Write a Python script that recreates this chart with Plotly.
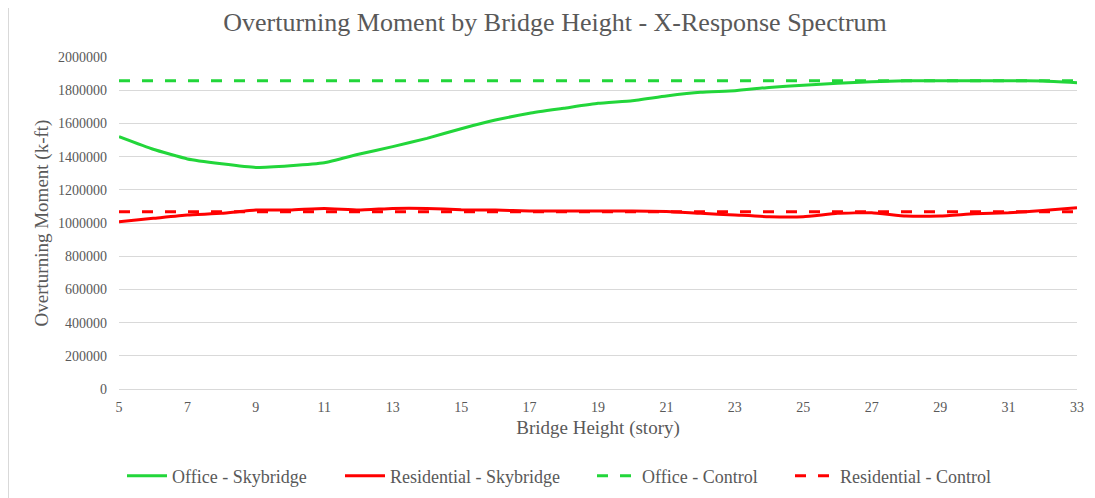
import plotly.graph_objects as go

stories = list(range(5, 34))
office_sky = [1520000, 1444000, 1386000, 1357000, 1335000, 1345000, 1363000, 1414000,
              1460000, 1510000, 1568000, 1620000, 1661000, 1691000, 1721000, 1737000,
              1765000, 1787000, 1797000, 1817000, 1830000, 1842000, 1851000, 1857000,
              1857000, 1857000, 1857000, 1855000, 1845000]
resid_sky = [1008000, 1028000, 1048000, 1058000, 1078000, 1078000, 1088000, 1078000,
             1088000, 1088000, 1080000, 1078000, 1072000, 1072000, 1072000, 1072000,
             1070000, 1058000, 1048000, 1038000, 1038000, 1058000, 1062000, 1042000,
             1042000, 1055000, 1062000, 1075000, 1092000]
office_ctrl = [1857000] * len(stories)
resid_ctrl = [1068000] * len(stories)

names = ["Office - Skybridge", "Residential - Skybridge", "Office - Control", "Residential - Control"]

GREEN = "#22D63A"
RED = "#FF0000"
TXT = "#595959"
GRID = "#D9D9D9"
FONT = "Liberation Serif"

# page has an 8px body margin: figure is drawn 8px right / 8px down
W, H = 1087, 490
L, R, T, B = 111, 1069, 49, 381

fig = go.Figure()
fig.add_trace(go.Scatter(x=stories, y=office_sky, mode="lines", name=names[0], legend="legend",
                         line=dict(color=GREEN, width=3, shape="spline", smoothing=0.4)))
fig.add_trace(go.Scatter(x=stories, y=resid_sky, mode="lines", name=names[1], legend="legend2",
                         line=dict(color=RED, width=3, shape="spline", smoothing=0.4)))
fig.add_trace(go.Scatter(x=stories, y=office_ctrl, mode="lines", name=names[2], legend="legend3",
                         line=dict(color=GREEN, width=3, dash="11px,12px")))
fig.add_trace(go.Scatter(x=stories, y=resid_ctrl, mode="lines", name=names[3], legend="legend4",
                         line=dict(color=RED, width=3, dash="11px,12px")))

def leg(text_x_page):
    return dict(orientation="h", x=(text_x_page - 8 - 50) / W, xref="container", xanchor="left",
                y=1 - 468 / H, yref="container", yanchor="middle", itemwidth=40,
                font=dict(family=FONT, size=18, color=TXT), bgcolor="rgba(0,0,0,0)")

fig.update_layout(
    width=W, height=H,
    margin=dict(l=L, r=W - R, t=T, b=H - B, autoexpand=False),
    paper_bgcolor="white", plot_bgcolor="white",
    font=dict(family=FONT, color=TXT, size=14),
    title=dict(text="Overturning Moment by Bridge Height - X-Response Spectrum",
               x=547 / W, xanchor="center", xref="container",
               y=1 - 14 / H, yanchor="middle",
               font=dict(family=FONT, size=26, color=TXT)),
    xaxis=dict(range=[5, 33], tick0=5, dtick=2, showgrid=False, zeroline=False,
               showline=False, ticks="", tickfont=dict(size=14, color=TXT), automargin=False,
               ticklabelstandoff=8,
               title=dict(text="Bridge Height (story)", font=dict(size=19, color=TXT), standoff=6)),
    yaxis=dict(range=[0, 2000000], dtick=200000, tickformat="d", showgrid=True,
               gridcolor=GRID, gridwidth=1, zeroline=True, zerolinecolor=GRID, zerolinewidth=1,
               showline=False, ticks="", tickfont=dict(size=14, color=TXT), automargin=False,
               ticklabelstandoff=11,
               title=dict(text="Overturning Moment (k-ft)", font=dict(size=19, color=TXT), standoff=4)),
    legend=leg(172),
    legend2=leg(390),
    legend3=leg(642),
    legend4=leg(840),
    showlegend=True,
    shapes=[dict(type="line", xref="paper", yref="paper",
                 x0=(0.5 - L) / (R - L), x1=(0.5 - L) / (R - L),
                 y0=(B - 495) / (B - T), y1=(B + 1) / (B - T),
                 line=dict(color=GRID, width=1))],
)

fig.write_html("out.html")
